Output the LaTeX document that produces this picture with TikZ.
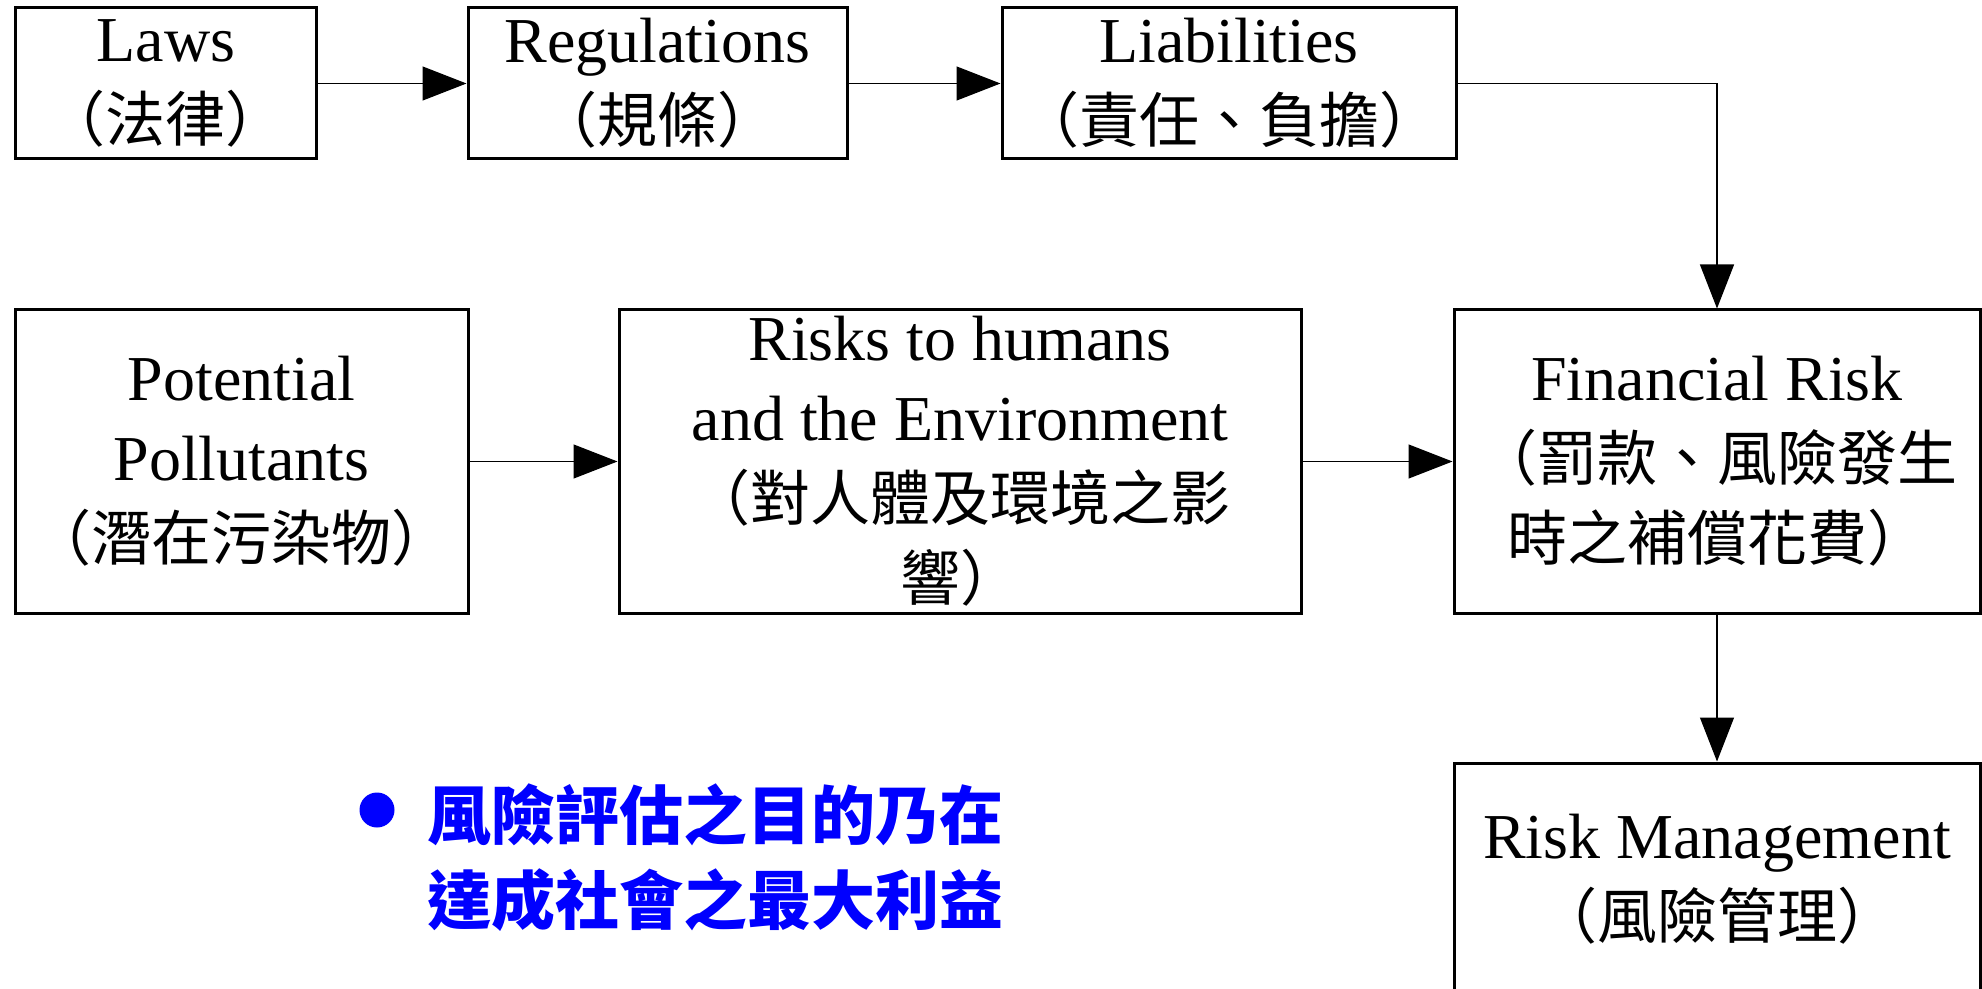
\documentclass[tikz,border=0pt]{standalone}
\usepackage{fontspec}
\setmainfont{Liberation Serif}
\newfontfamily\cjk{Noto Sans CJK TC}
\usetikzlibrary{arrows.meta,positioning}
\definecolor{rmBlue}{HTML}{0000FF}
\newcommand{\zh}[1]{{\cjk\fontsize{30}{40}\selectfont #1}}
\tikzset{
  rm box/.style={draw, line width=1.5pt, align=center, inner sep=0pt, font=\fontsize{32}{40}\selectfont},
  rm arrow/.style={draw, line width=0.6pt, -{Triangle[length=22pt,width=17pt]}},
  rm note/.style={align=left, inner sep=0pt, text=rmBlue, font=\fontsize{32}{42.5}\selectfont\cjk\bfseries},
  rm dot/.style={circle, fill=rmBlue, minimum size=17.5pt, inner sep=0pt},
}

\begin{document}
\begin{tikzpicture}[x=1pt,y=-1pt]
  \useasboundingbox (0,0) rectangle (991,494.5);
  % top row
  \node[rm box, minimum width=150.5pt, minimum height=75.5pt] (laws) at (83,41.75) {Laws\\\zh{（法律）}};
  \node[rm box, minimum width=189.5pt, minimum height=75.5pt] (regs) at (328.75,41.75) {Regulations\\\zh{（規條）}};
  \node[rm box, minimum width=227pt, minimum height=75.5pt] (liab) at (614.5,41.75) {Liabilities\\\zh{（責任、負擔）}};
  % middle row
  \node[rm box, minimum width=226.5pt, minimum height=151.5pt] (poll) at (120.75,230.75) {Potential\\Pollutants\\\zh{（潛在污染物）}};
  \node[rm box, minimum width=341pt, minimum height=151.5pt] (hum) at (480,230.75) {Risks to humans\\and the Environment\\\zh{（對人體及環境之影}\\\zh{響）}};
  \node[rm box, minimum width=263pt, minimum height=151.5pt] (fin) at (858.5,230.75) {Financial Risk\\\zh{（罰款、風險發生}\\\zh{時之補償花費）}};
  % bottom
  \node[rm box, minimum width=263pt, minimum height=116pt] (mgmt) at (858.5,439.5) {Risk Management\\\zh{（風險管理）}};
  \node[rm dot] (dot) at (188.5,405) {};
  \node[rm note, anchor=west] (note) at (213.5,429) {風險評估之目的乃在\\達成社會之最大利益};
  % connectors
  \draw[rm arrow] (laws) -- (regs);
  \draw[rm arrow] (regs) -- (liab);
  \draw[rm arrow] (liab.east) -| (fin.north);
  \draw[rm arrow] (poll) -- (hum);
  \draw[rm arrow] (hum) -- (fin);
  \draw[rm arrow] (fin) -- (mgmt);
\end{tikzpicture}
\end{document}
